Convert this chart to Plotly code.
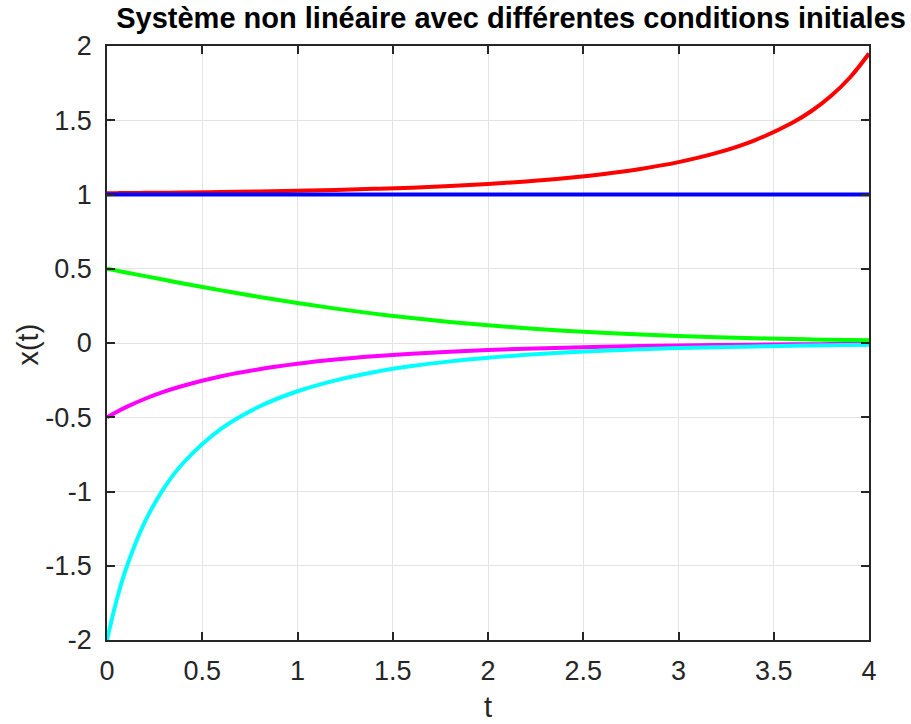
import plotly.graph_objects as go

# time samples (s)
t = [0, 0.05, 0.1, 0.2, 0.3, 0.4, 0.6, 0.8, 1.0, 1.2, 1.4, 1.6, 1.8, 2.0,
     2.2, 2.4, 2.6, 2.8, 3.0, 3.2, 3.4, 3.6, 3.7, 3.8, 3.9, 4.0]

# x(t) for each initial condition
x_red = [1.009, 1.009, 1.010, 1.011, 1.012, 1.013, 1.017, 1.020, 1.025, 1.031,
         1.038, 1.046, 1.057, 1.071, 1.088, 1.109, 1.137, 1.172, 1.218, 1.280,
         1.365, 1.485, 1.564, 1.663, 1.788, 1.949]
x_blue = [1.0] * len(t)
x_green = [0.5, 0.4875, 0.4750, 0.4502, 0.4256, 0.4013, 0.3543, 0.3100, 0.2689,
           0.2315, 0.1978, 0.1680, 0.1419, 0.1192, 0.0998, 0.0832, 0.0691,
           0.0573, 0.0474, 0.0392, 0.0323, 0.0266, 0.0241, 0.0219, 0.0198, 0.0180]
x_magenta = [-0.5, -0.4642, -0.4318, -0.3754, -0.3279, -0.2878, -0.2239, -0.1762,
             -0.1398, -0.1116, -0.0896, -0.0722, -0.0583, -0.0472, -0.0384,
             -0.0312, -0.0254, -0.0207, -0.0169, -0.0138, -0.0112, -0.0092,
             -0.0083, -0.0075, -0.0068, -0.0061]
x_cyan = [-2.0, -1.7334, -1.5202, -1.2019, -0.9758, -0.8081, -0.5770, -0.4276,
          -0.3249, -0.2513, -0.1967, -0.1555, -0.1238, -0.0992, -0.0798, -0.0644,
          -0.0521, -0.0423, -0.0343, -0.0279, -0.0228, -0.0186, -0.0168, -0.0151,
          -0.0137, -0.0124]

series = [
    (x_red, "#ff0000"),
    (x_blue, "#0000ff"),
    (x_green, "#00ff00"),
    (x_magenta, "#ff00ff"),
    (x_cyan, "#00ffff"),
]

x_ticks = [0, 0.5, 1, 1.5, 2, 2.5, 3, 3.5, 4]
y_ticks = [-2, -1.5, -1, -0.5, 0, 0.5, 1, 1.5, 2]

FONT = "Liberation Sans, Arial"

fig = go.Figure()
for ys, col in series:
    fig.add_trace(go.Scatter(x=t, y=ys, mode="lines",
                             line=dict(color=col, width=4, shape="spline"),
                             showlegend=False, hoverinfo="skip"))

axis_common = dict(
    showgrid=True, gridcolor="#e3e3e3", gridwidth=1,
    showline=True, linecolor="#262626", linewidth=1.5, mirror="ticks",
    ticks="inside", ticklen=8, tickwidth=1.5, tickcolor="#262626",
    zeroline=False, automargin=False,
    tickfont=dict(family=FONT, size=27, color="#262626"),
)

fig.update_layout(
    width=911, height=724,
    margin=dict(l=107, r=42, t=46, b=84),
    paper_bgcolor="white", plot_bgcolor="white",
    title=dict(text="<b>Système non linéaire avec différentes conditions initiales</b>",
               x=0.561, xanchor="center", y=0.975, yanchor="middle",
               font=dict(family=FONT, size=29, color="black")),
    xaxis=dict(range=[0, 4], tickvals=x_ticks, ticktext=[f"{v:g}" for v in x_ticks],
               ticklabelstandoff=6, **axis_common),
    yaxis=dict(range=[-2, 2], tickvals=y_ticks, ticktext=[f"{v:g}" for v in y_ticks],
               ticklabelstandoff=8, **axis_common),
    annotations=[
        dict(text="t", xref="paper", yref="paper", x=0.5, y=-0.112,
             xanchor="center", yanchor="middle", showarrow=False,
             font=dict(family=FONT, size=29, color="#262626")),
        dict(text="x(t)", xref="paper", yref="paper", x=-0.104, y=0.497,
             xanchor="center", yanchor="middle", showarrow=False, textangle=-90,
             font=dict(family=FONT, size=29, color="#262626")),
    ],
)

fig.write_html("out.html")
